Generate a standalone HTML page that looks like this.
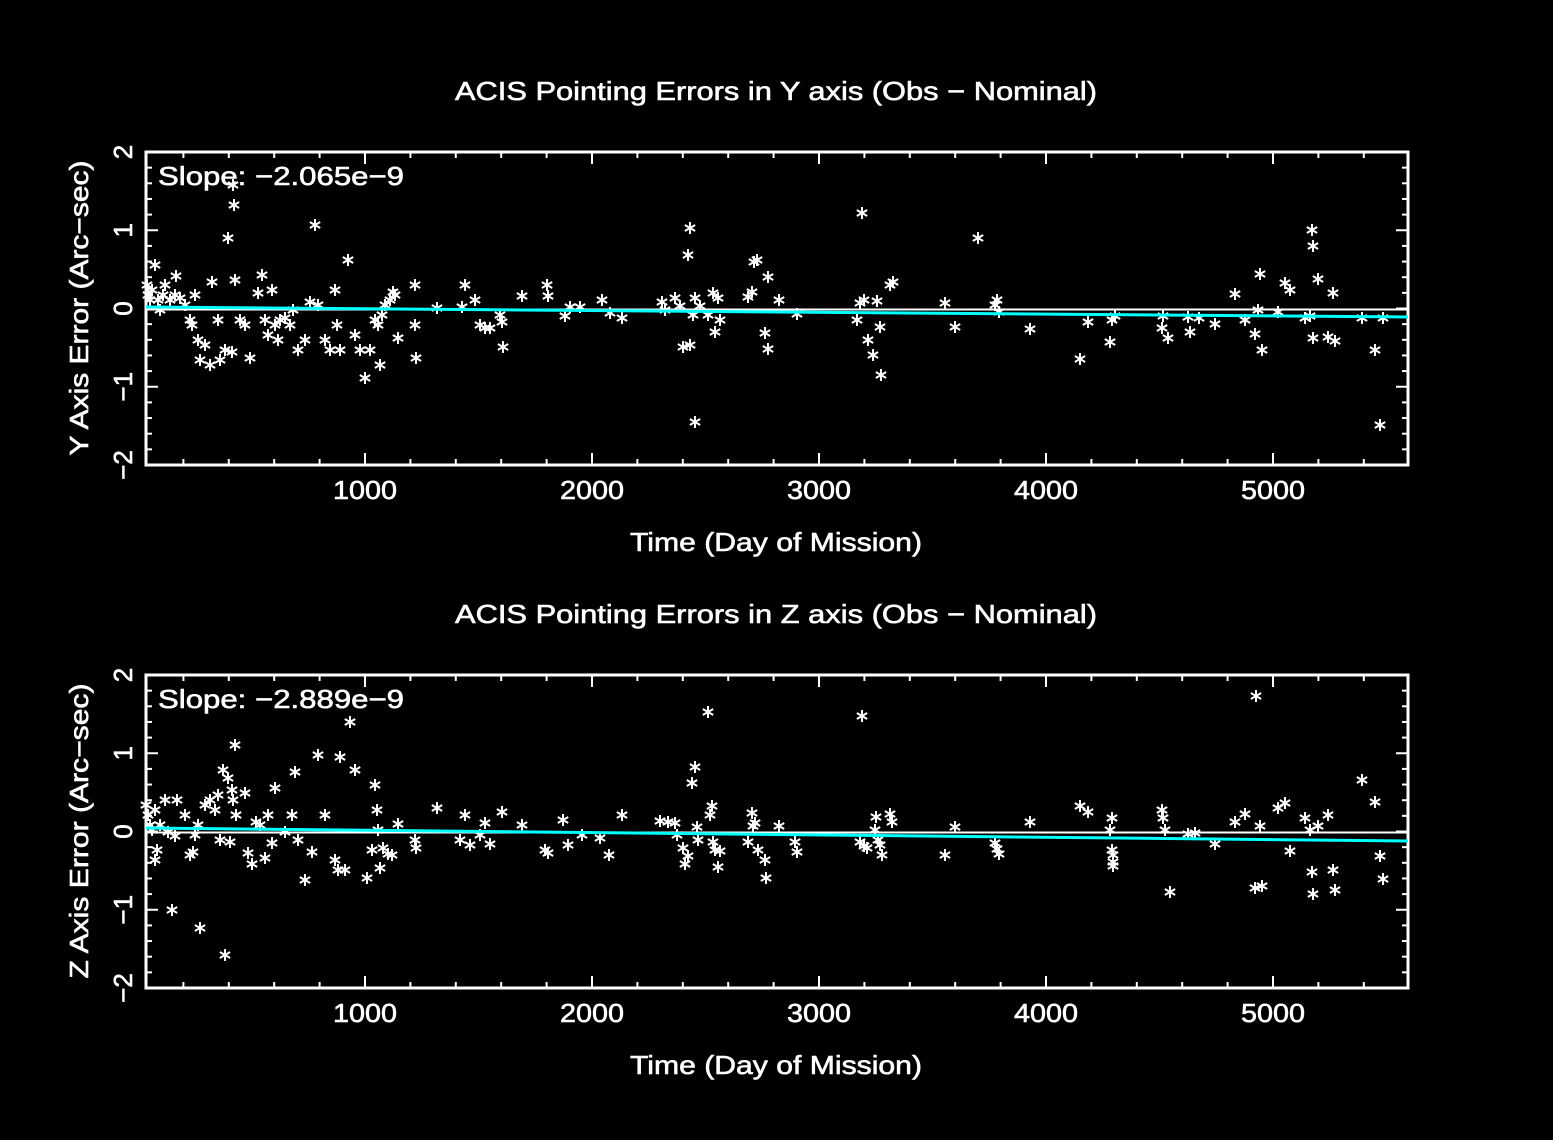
<!DOCTYPE html>
<html><head><meta charset="utf-8"><style>
html,body{margin:0;padding:0;background:#000;}
svg{display:block}
text{font-family:"Liberation Sans",sans-serif;fill:#fff;stroke:#fff;stroke-width:0.6}
</style></head><body>
<svg id="s" width="1553" height="1140" xmlns="http://www.w3.org/2000/svg"></svg>
<script>
const NS="http://www.w3.org/2000/svg";const s=document.getElementById('s');
function el(t,a,txt){const e=document.createElementNS(NS,t);for(const k in a)e.setAttribute(k,a[k]);if(txt!==undefined)e.textContent=txt;s.appendChild(e);return e;}
function line(x1,y1,x2,y2,c,w){el('line',{x1,y1,x2,y2,stroke:c||'#fff','stroke-width':w||2});}
function star(x,y){const r=6;line(x,y-r,x,y+r,'#fff',2);const dx=r*0.866,dy=r*0.5;line(x-dx,y-dy,x+dx,y+dy,'#fff',2);line(x-dx,y+dy,x+dx,y-dy,'#fff',2);}
function panel(top,title,ylab,slope,pts,cy1,cy2){
 const L=146,R=1408,T=top,B=top+313;
 el('rect',{x:L,y:T,width:R-L,height:B-T,fill:'none',stroke:'#fff','stroke-width':3});
 const x0=138,px=0.227;
 for(let v=200;v<=5400;v+=200){const x=x0+v*px;const big=v%1000==0;const l=big?12:6;line(x,T,x,T+l);line(x,B,x,B-l);
  if(big)el('text',{x:x,y:B+34,'font-size':26,'text-anchor':'middle',textLength:64,lengthAdjust:'spacingAndGlyphs'},String(v));}
 const yz=(T+B)/2,py=78.25;
 for(let i=-10;i<=10;i++){const y=yz-i*0.2*py;const big=i%5==0;const l=big?12:6;line(L,y,L+l,y);line(R,y,R-l,y);
  if(big){el('text',{x:0,y:0,'font-size':26,'text-anchor':'middle',transform:`translate(${L-14},${y}) rotate(-90)`},i==0?'0':(i>0?String(i/5):'\u2212'+(-i/5)));}}
 el('text',{x:455,y:T-52,'font-size':26,textLength:642,lengthAdjust:'spacingAndGlyphs'},title);
 el('text',{x:630,y:B+86,'font-size':26,textLength:292,lengthAdjust:'spacingAndGlyphs'},'Time (Day of Mission)');
 el('text',{x:0,y:0,'font-size':26,textLength:295,lengthAdjust:'spacingAndGlyphs',transform:`translate(88,${yz+147}) rotate(-90)`},ylab);
 el('text',{x:158,y:T+33,'font-size':26,textLength:246,lengthAdjust:'spacingAndGlyphs'},'Slope: '+slope);
 line(L,yz+1,R,yz+1,'#fff',2);
 pts.forEach(p=>star(p[0],p[1]));
 line(L,cy1,R,cy2,'#0ff',3);
}
const p1=[[147,285],[148,295],[150,300],[152,290],[155,265],[158,300],[160,310],[163,295],[165,285],[170,300],[175,295],[176,276],[180,298],[185,305],[190,320],[192,325],[195,295],[198,340],[200,360],[205,345],[210,365],[212,282],[218,320],[220,360],[225,350],[228,238],[232,352],[233,185],[234,205],[235,280],[240,320],[245,325],[250,358],[258,293],[262,275],[265,320],[268,335],[272,290],[275,325],[278,340],[280,320],[285,318],[290,325],[293,310],[298,350],[305,340],[310,302],[315,225],[318,305],[325,340],[330,350],[335,290],[337,325],[340,350],[348,260],[355,335],[360,350],[365,378],[370,350],[375,320],[378,325],[380,365],[382,315],[385,305],[390,300],[393,292],[395,295],[398,338],[415,285],[415,325],[416,358],[437,308],[462,307],[465,285],[475,300],[480,325],[485,328],[490,328],[500,315],[502,322],[503,347],[522,296],[547,285],[548,296],[565,316],[570,307],[580,307],[602,300],[610,313],[622,318],[662,302],[665,310],[675,298],[680,306],[683,347],[688,255],[690,228],[690,345],[693,315],[695,298],[695,422],[700,306],[708,315],[713,293],[715,332],[718,298],[720,320],[748,297],[752,292],[754,262],[757,260],[765,333],[768,349],[768,277],[779,300],[797,314],[857,320],[860,303],[862,213],[864,300],[868,340],[873,355],[877,301],[880,327],[881,375],[890,285],[893,282],[945,303],[955,327],[978,238],[995,305],[997,300],[999,312],[1030,329],[1080,359],[1088,322],[1110,342],[1112,320],[1115,316],[1162,328],[1163,316],[1168,338],[1188,317],[1190,332],[1199,318],[1215,324],[1235,294],[1245,320],[1255,334],[1258,310],[1260,274],[1262,350],[1278,312],[1285,283],[1290,290],[1305,318],[1310,316],[1312,230],[1313,246],[1313,338],[1318,279],[1328,337],[1333,293],[1335,341],[1362,318],[1375,350],[1380,425],[1383,318]];
const p2=[[146,805],[148,815],[150,825],[152,830],[155,810],[155,860],[157,850],[160,825],[165,800],[168,832],[172,910],[175,836],[177,800],[185,815],[190,855],[193,852],[195,835],[198,825],[200,928],[205,805],[210,800],[215,810],[218,795],[220,840],[223,770],[225,955],[228,778],[230,842],[232,790],[233,800],[235,745],[236,815],[245,793],[248,853],[252,864],[256,822],[260,825],[265,858],[268,815],[272,843],[275,788],[285,832],[292,815],[295,772],[298,840],[305,880],[312,852],[318,755],[325,815],[335,860],[338,870],[340,757],[345,870],[350,722],[355,770],[367,878],[372,850],[375,785],[377,810],[378,830],[380,868],[383,848],[388,854],[392,855],[398,824],[415,840],[416,848],[437,808],[460,840],[465,815],[470,845],[480,835],[485,823],[490,844],[502,812],[522,825],[545,850],[548,853],[563,820],[568,845],[582,835],[600,838],[609,855],[622,815],[660,821],[668,822],[675,823],[677,835],[683,848],[685,864],[688,856],[692,783],[695,767],[697,827],[698,840],[708,712],[710,815],[712,806],[713,842],[715,850],[718,867],[720,851],[748,842],[752,813],[753,826],[755,823],[758,850],[765,860],[766,878],[779,826],[795,842],[797,852],[860,842],[862,716],[864,846],[867,848],[875,830],[876,817],[878,840],[880,845],[882,855],[890,814],[892,822],[945,855],[955,827],[995,843],[997,849],[999,854],[1030,822],[1080,806],[1088,812],[1110,830],[1112,818],[1112,850],[1113,855],[1113,862],[1113,866],[1162,810],[1163,818],[1165,830],[1170,892],[1188,834],[1195,833],[1215,844],[1235,822],[1245,814],[1255,888],[1256,696],[1260,826],[1262,886],[1278,808],[1285,803],[1290,851],[1305,818],[1310,830],[1312,872],[1313,894],[1318,826],[1328,815],[1333,870],[1335,890],[1362,780],[1375,802],[1380,856],[1383,879]];
panel(152,'ACIS Pointing Errors in Y axis (Obs \u2212 Nominal)','Y Axis Error (Arc\u2212sec)','\u22122.065e\u22129',p1,307,317);
panel(675,'ACIS Pointing Errors in  Z axis (Obs \u2212 Nominal)','Z Axis Error (Arc\u2212sec)','\u22122.889e\u22129',p2,828,841);
</script>
</body></html>
